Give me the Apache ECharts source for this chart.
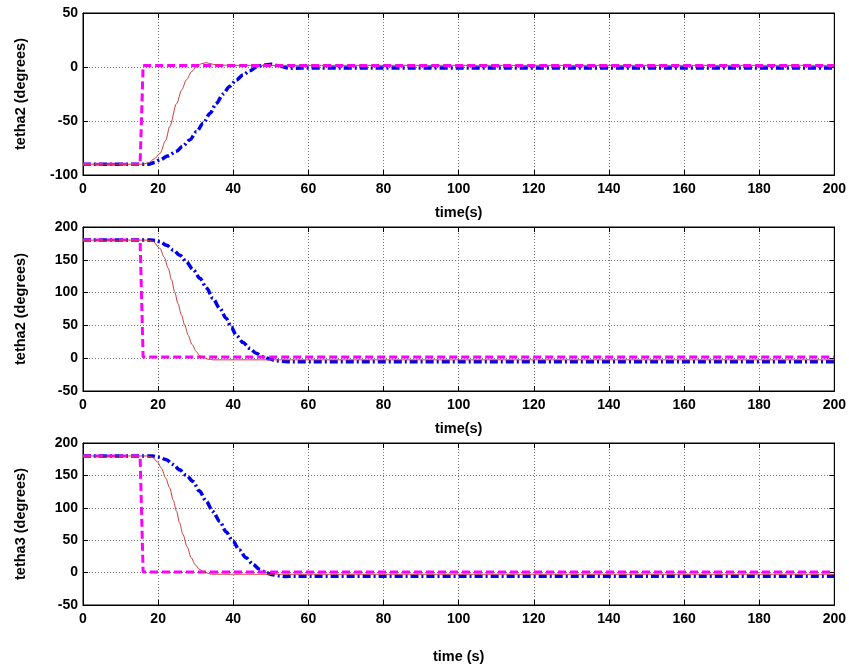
<!DOCTYPE html>
<html>
<head>
<meta charset="utf-8">
<script src="https://cdn.jsdelivr.net/npm/echarts@6/dist/echarts.min.js"></script>
<style>
html,body{margin:0;padding:0;background:#fff;}
#c{width:849px;height:665px;}
</style>
</head>
<body>
<div id="c"></div>
<script>
// ---- Data (time in s, angle in degrees) ----
const xTicksMax = 200;
const yLabels = ['tetha2 (degrees)', 'tetha2 (degrees)', 'tetha3 (degrees)'];
const xLabels = ['time(s)', 'time(s)', 'time (s)'];

// Plot 1
const p1Magenta = [[0,-90],[15.2,-90],[16.0,1.5],[200,1.5]];
const p1Red = [[0,-90],[16,-90],[17.5,-88.5],[19,-85],[20.5,-80],[22,-68],[23.1,-55],[24.9,-34],[26.3,-21],[27.5,-12],[29,-4],[30.2,0],[31.5,3],[32.8,4],[34,3],[35.5,1.8],[40,1.5],[200,1.5]];
const p1Blue = [[0,-90],[17.5,-90],[19,-88.5],[20.5,-86],[22.5,-82.5],[24.9,-78],[26.5,-73.5],[28.4,-67.5],[30.2,-60],[32,-52],[33.8,-43],[35.5,-33.6],[37.3,-25],[39,-18],[40.8,-12],[42.6,-7.4],[44.4,-3.5],[46.1,-0.3],[48,1.8],[50.1,2.5],[52,1],[55,-1.2],[58,-1],[200,-1]];

// Plot 2
const p2Magenta = [[0,180],[15.2,180],[16.0,2],[200,2]];
const p2Red = [[0,180],[17,180],[18.5,178.5],[20.5,167.5],[21.6,154],[22.7,137],[23.6,119],[24.4,101],[25.3,83],[26.2,66],[27.1,50],[28,35],[29,21],[30.2,10],[31,4],[32,1],[33.3,-1.5],[34.6,-2.5],[40,-2.5],[200,-2.5]];
const p2Blue = [[0,180],[18,180],[19.5,179.5],[20.5,177.6],[22.3,172],[24,165],[25.8,157],[27.5,147],[29.3,135],[31.1,122],[32.9,107],[34.6,91],[36.4,76],[38.1,61],[39.5,47],[40.8,35],[42.6,24],[44.4,15],[46.1,7.5],[47.9,2.3],[49.6,-1],[51.4,-3.8],[53.5,-5],[55.9,-5.5],[200,-5.5]];

// Plot 3
const p3Magenta = [[0,180],[15.2,180],[16.0,1],[200,1]];
const p3Red = [[0,180],[17,180],[18.5,178],[19.8,171],[20.9,161],[22,146],[23.1,130.5],[24,112],[24.9,94.6],[25.7,77],[26.6,59],[27.7,40],[28.8,23],[29.9,12],[31,5],[32.5,0],[34.2,-2.5],[40,-2.5],[200,-2.5]];
const p3Blue = [[0,180],[18.5,180],[20.3,178],[22.2,174],[24,167],[25.7,158.6],[27.5,150],[29.3,140.6],[31,126],[32.8,110],[34.6,94],[36.4,79],[38.1,63],[39.9,48.6],[41.6,35],[43.4,23],[45.2,13],[47,5],[48.8,-0.5],[50.5,-3.5],[52.3,-5],[54.1,-6],[56,-5.5],[200,-5.5]];

const yRanges = [[-100,50],[-50,200],[-50,200]];
const plots = [
  {magenta:p1Magenta, red:p1Red, blue:p1Blue},
  {magenta:p2Magenta, red:p2Red, blue:p2Blue},
  {magenta:p3Magenta, red:p3Red, blue:p3Blue}
];

// ---- Layout ----
const grids = [
  {left:83, width:753, top:13, height:162},
  {left:83, width:753, top:227, height:164},
  {left:83, width:753, top:443, height:163}
];
const xNameGaps = [30, 30, 44];
const FONT = 'Liberation Sans, Arial, sans-serif';
const tickFont = {fontFamily:FONT, fontWeight:'bold', fontSize:14, color:'#000'};
const gridLine = {show:true, lineStyle:{color:'#777', type:[1,2], width:1}};

const xAxis = [], yAxis = [], series = [];
grids.forEach((g, i) => {
  xAxis.push({
    type:'value', gridIndex:i, min:0, max:xTicksMax, interval:20, position:'bottom',
    name:xLabels[i], nameLocation:'middle', nameGap:xNameGaps[i],
    nameTextStyle:{fontFamily:FONT, fontWeight:'bold', fontSize:14.5, color:'#000'},
    axisLine:{show:true, onZero:false, lineStyle:{color:'#000', width:1}},
    axisTick:{show:true, inside:true, length:5, lineStyle:{color:'#000'}},
    axisLabel:Object.assign({margin:7}, tickFont),
    splitLine:gridLine
  });
  yAxis.push({
    type:'value', gridIndex:i, min:yRanges[i][0], max:yRanges[i][1], interval:50, position:'left',
    name:yLabels[i], nameLocation:'middle', nameGap:55, nameRotate:90,
    nameTextStyle:{fontFamily:FONT, fontWeight:'bold', fontSize:14.5, color:'#000'},
    axisLine:{show:true, onZero:false, lineStyle:{color:'#000', width:1}},
    axisTick:{show:true, inside:true, length:5, lineStyle:{color:'#000'}},
    axisLabel:Object.assign({margin:5}, tickFont),
    splitLine:gridLine
  });
});
grids.forEach((g, i) => {
  xAxis.push({
    type:'value', gridIndex:i, min:0, max:xTicksMax, interval:20, position:'top',
    axisLine:{show:true, onZero:false, lineStyle:{color:'#000', width:1}},
    axisTick:{show:true, inside:true, length:5, lineStyle:{color:'#000'}},
    axisLabel:{show:false}, splitLine:{show:false}
  });
  yAxis.push({
    type:'value', gridIndex:i, min:yRanges[i][0], max:yRanges[i][1], interval:50, position:'right',
    axisLine:{show:true, onZero:false, lineStyle:{color:'#000', width:1}},
    axisTick:{show:true, inside:true, length:5, lineStyle:{color:'#000'}},
    axisLabel:{show:false}, splitLine:{show:false}
  });
});

plots.forEach((p, i) => {
  series.push({
    type:'line', xAxisIndex:i, yAxisIndex:i, data:p.blue, showSymbol:false, symbol:'none',
    smooth:0.3, smoothMonotone:'x', z:3,
    lineStyle:{color:'#0000ee', width:3.5, type:[8,3,2,3]}
  });
  series.push({
    type:'line', xAxisIndex:i, yAxisIndex:i, data:p.magenta, showSymbol:false, symbol:'none',
    z:4, lineStyle:{color:'#ff00ff', width:3, type:[8,4]}
  });
  series.push({
    type:'line', xAxisIndex:i, yAxisIndex:i, data:p.red, showSymbol:false, symbol:'none',
    smooth:0.3, smoothMonotone:'x', z:5,
    lineStyle:{color:'#d03a3a', width:1}
  });
});

const chart = echarts.init(document.getElementById('c'), null, {renderer:'canvas'});
chart.setOption({
  animation:false,
  backgroundColor:'#fff',
  grid:grids.map(g => Object.assign({show:true, borderColor:'#000', borderWidth:1, backgroundColor:'#fff'}, g)),
  xAxis, yAxis, series
});
</script>
</body>
</html>
